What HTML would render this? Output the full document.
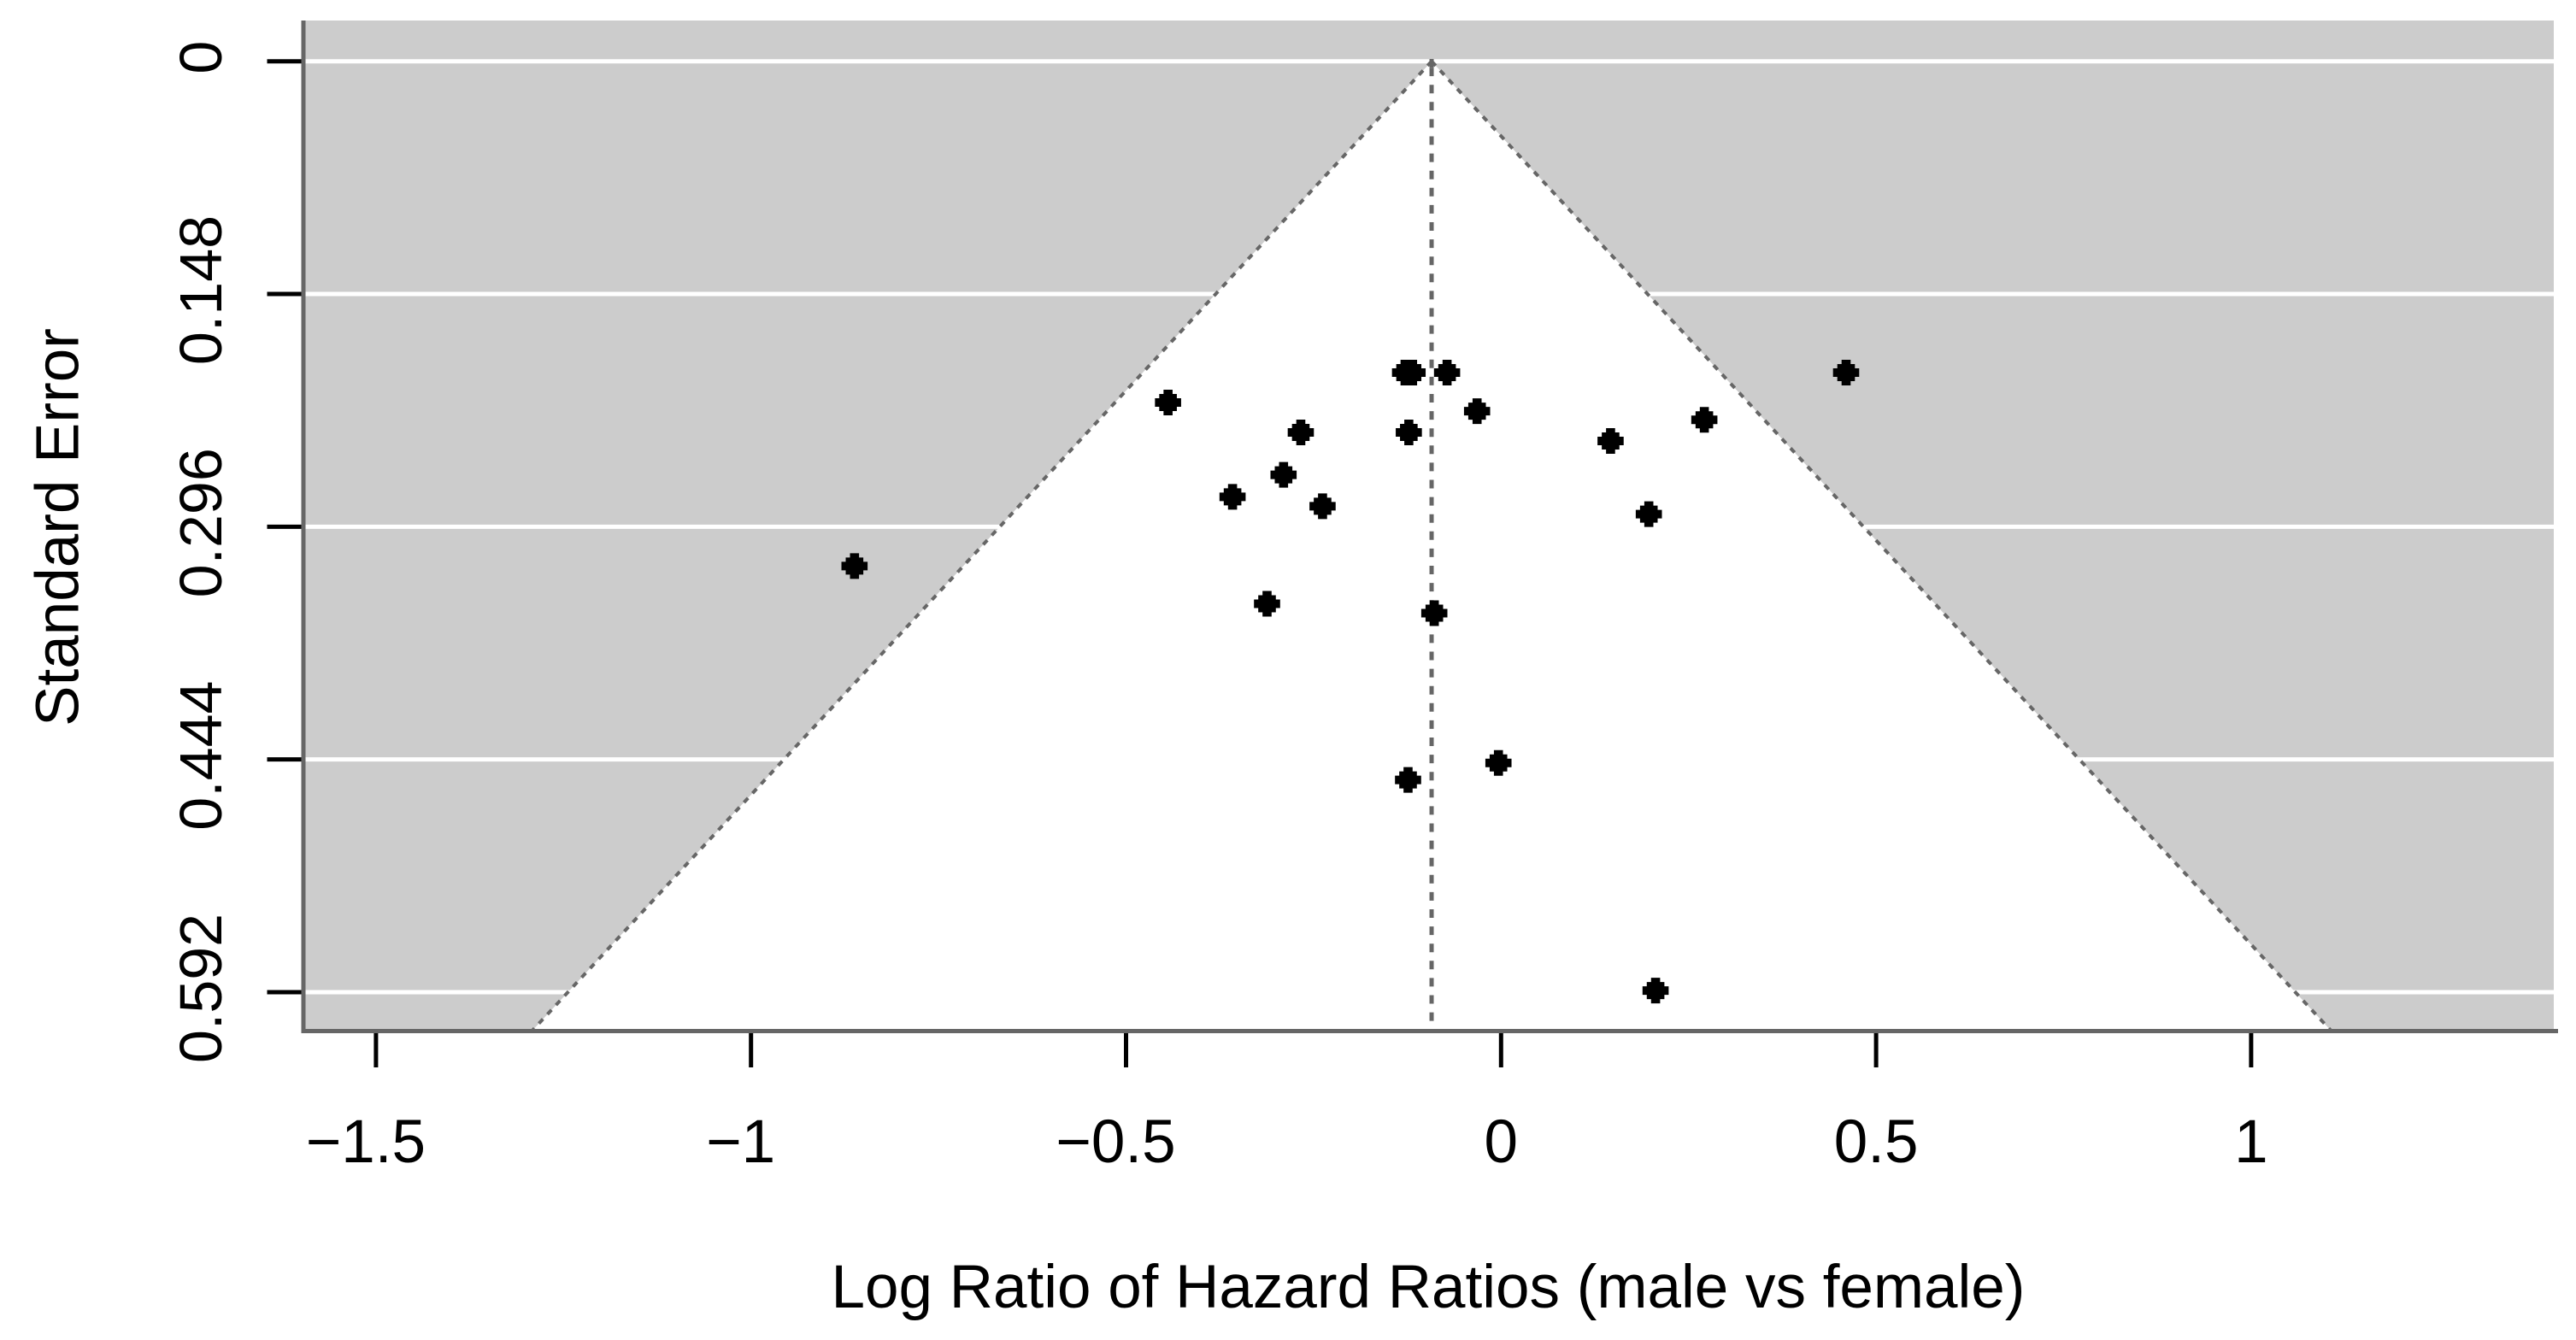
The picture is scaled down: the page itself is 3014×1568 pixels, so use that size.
<!DOCTYPE html>
<html lang="en">
<head>
<meta charset="utf-8">
<title>Funnel plot</title>
<style>
  html, body { margin: 0; padding: 0; background: #fff; }
  body { width: 3014px; height: 1568px; overflow: hidden; }
  svg { display: block; }
  text { font-family: "Liberation Sans", Arial, sans-serif; fill: #000; }
</style>
</head>
<body>
<svg id="chart" xmlns="http://www.w3.org/2000/svg" width="3014" height="1568" viewBox="0 0 3014 1568"></svg>
<script>
const logRatios = [-0.128, -0.123, -0.118, -0.072, 0.460, -0.444, -0.032, 0.271, -0.267, -0.123, 0.146, -0.290, -0.358, -0.238, 0.197, -0.862, -0.312, -0.089, -0.0035, -0.124, 0.206];
const standardErrors = [0.198, 0.198, 0.198, 0.198, 0.198, 0.217, 0.2225, 0.228, 0.236, 0.236, 0.2415, 0.263, 0.277, 0.283, 0.288, 0.321, 0.345, 0.351, 0.4462, 0.457, 0.591];
const xTickValues = [-1.5, -1, -0.5, 0, 0.5, 1];
const xTickLabels = ["\u22121.5", "\u22121", "\u22120.5", "0", "0.5", "1"];
const yTickValues = [0, 0.148, 0.296, 0.444, 0.592];
const yTickLabels = ["0", "0.148", "0.296", "0.444", "0.592"];
const pooledEstimate = -0.0926;
const coneMultiplier = 1.945;

const NS = "http://www.w3.org/2000/svg";
const svg = document.getElementById("chart");
const plotLeft = 355, plotRight = 2988, plotTop = 24, plotBottom = 1206.5;

function xScale(v) { return 1756.3 + v * 877.6; }
function yScale(v) { return 71.7 + v * 1840; }
function seAtBottom() { return (plotBottom - 71.7) / 1840; }

function add(tag, attrs, parent) {
  const el = document.createElementNS(NS, tag);
  for (const k in attrs) el.setAttribute(k, attrs[k]);
  (parent || svg).appendChild(el);
  return el;
}

const bg = add("rect", { x: plotLeft, y: plotTop, width: plotRight - plotLeft, height: plotBottom - plotTop, fill: "#cccccc" });



yTickValues.forEach(function (v) {
  const grid = add("line", { x1: plotLeft, x2: plotRight, y1: yScale(v), y2: yScale(v), stroke: "#ffffff", "stroke-width": 5 });
  
  
});

const seMax = seAtBottom();
const apexX = xScale(pooledEstimate), apexY = yScale(0);
const leftX = xScale(pooledEstimate - coneMultiplier * seMax);
const rightX = xScale(pooledEstimate + coneMultiplier * seMax);

const cone = add("polygon", { points: apexX + "," + apexY + " " + leftX + "," + plotBottom + " " + rightX + "," + plotBottom, fill: "#ffffff" });



const coneLeft = add("line", { x1: apexX, y1: apexY, x2: leftX, y2: plotBottom, stroke: "#666666", "stroke-width": 4, "stroke-dasharray": "7 7.7" });



const coneRight = add("line", { x1: apexX, y1: apexY, x2: rightX, y2: plotBottom, stroke: "#666666", "stroke-width": 4, "stroke-dasharray": "7 7.7" });



const centerStub = add("line", { x1: apexX, y1: 69, x2: apexX, y2: 79, stroke: "#666666", "stroke-width": 5 });



const centerLine = add("line", { x1: apexX, y1: 69, x2: apexX, y2: 1195, stroke: "#666666", "stroke-width": 5, "stroke-dasharray": "10 10.1", "stroke-dashoffset": 10 });



const yAxis = add("line", { x1: plotLeft, x2: plotLeft, y1: plotTop, y2: plotBottom + 2.5, stroke: "#666666", "stroke-width": 5 });



const xAxis = add("line", { x1: plotLeft - 2.5, x2: 2993, y1: plotBottom, y2: plotBottom, stroke: "#666666", "stroke-width": 5 });



xTickValues.forEach(function (v, i) {
  const tick = add("line", { x1: xScale(v), x2: xScale(v), y1: 1209, y2: 1249, stroke: "#000000", "stroke-width": 5 });
  
  
  const shift = v < 0 ? -12 : 0;
  const label = add("text", { x: xScale(v) + shift, y: 1360, "font-size": 71, "text-anchor": "middle" });
  label.textContent = xTickLabels[i];
  
  
});

yTickValues.forEach(function (v, i) {
  const tick = add("line", { x1: 312.5, x2: 352.5, y1: yScale(v), y2: yScale(v), stroke: "#000000", "stroke-width": 5 });
  
  
  const label = add("text", { x: 0, y: 0, "font-size": 70, "text-anchor": "middle", transform: "translate(259 " + (yScale(v) - 4.5) + ") rotate(-90)" });
  label.textContent = yTickLabels[i];
  
  
});

logRatios.forEach(function (v, i) {
  const cx = xScale(v), cy = yScale(standardErrors[i]);
  const offsets = [[-5.3, -15], [5.3, -15], [5.3, -10], [10.3, -10], [10.3, -5], [15.3, -5], [15.3, 5], [10.3, 5], [10.3, 10], [5.3, 10], [5.3, 15], [-5.3, 15], [-5.3, 10], [-10.3, 10], [-10.3, 5], [-15.3, 5], [-15.3, -5], [-10.3, -5], [-10.3, -10], [-5.3, -10]];
  const pts = offsets.map(function (o) { return (cx + o[0]) + "," + (cy + o[1]); }).join(" ");
  const point = add("polygon", { points: pts, fill: "#000000" });
  
  
});

const xTitle = add("text", { x: 1671, y: 1530, "font-size": 71, "text-anchor": "middle" });
xTitle.textContent = "Log Ratio of Hazard Ratios (male vs female)";



const yTitle = add("text", { x: 0, y: 0, "font-size": 71, "text-anchor": "middle", transform: "translate(91.5 617) rotate(-90)" });
yTitle.textContent = "Standard Error";


</script>
</body>
</html>
